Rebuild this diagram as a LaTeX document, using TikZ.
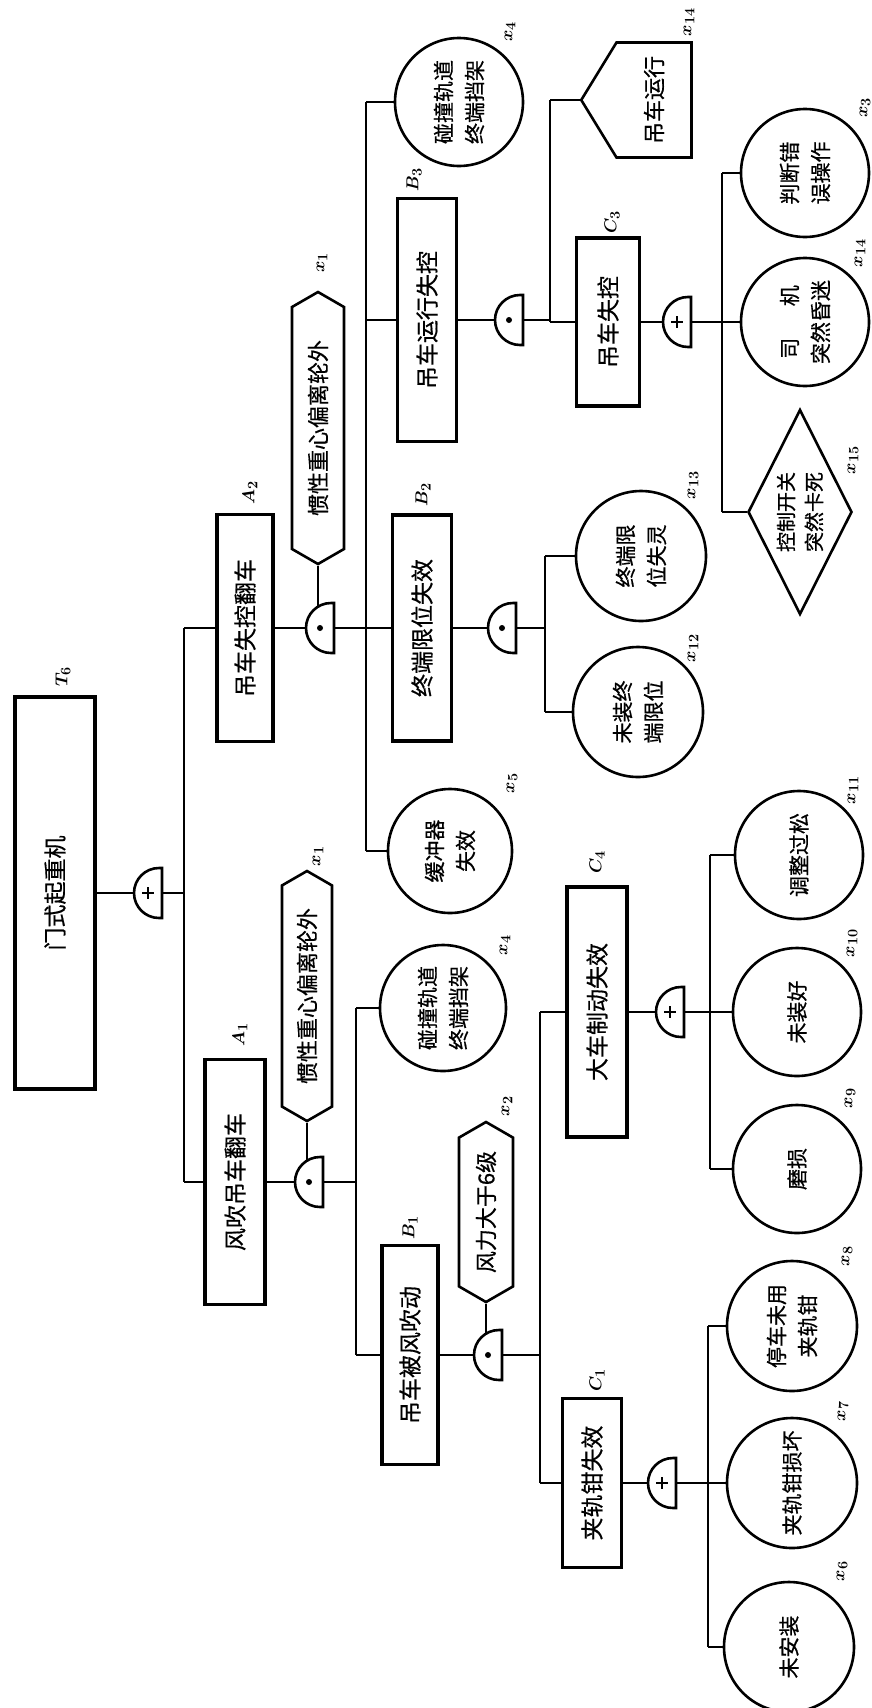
\documentclass[tikz,border=0pt]{standalone}
\usepackage{amsmath}
\usepackage{fontspec}
\newfontfamily\cjk{Noto Sans CJK SC}[FakeBold=0.6]
\usetikzlibrary{shapes.geometric, shapes.symbols, calc}

\begin{document}
\begin{tikzpicture}[x=1pt, y=-1pt,
  box/.style={rectangle, draw, line width=3.5pt, rotate=90, inner sep=0pt, font=\cjk\fontsize{23}{28}\selectfont},
  event/.style={circle, draw, line width=2.6pt, rotate=90, inner sep=0pt, minimum size=128pt, align=center, font=\cjk\fontsize{21}{31}\selectfont},
  cond/.style={signal, signal to=east and west, signal pointer angle=120, draw, line width=2.6pt, rotate=90, inner sep=0pt, minimum height=52pt, font=\cjk\fontsize{22}{26}\selectfont},
  house/.style={signal, signal to=north, signal from=nowhere, signal pointer angle=117, draw, line width=2.6pt, rotate=90, inner sep=0pt, minimum width=115pt, minimum height=102pt, font=\cjk\fontsize{22}{26}\selectfont},
  undev/.style={diamond, aspect=2, draw, line width=2.6pt, rotate=90, inner sep=0pt, minimum width=205pt, minimum height=104pt, align=center, font=\cjk\fontsize{20}{28}\selectfont},
  lbl/.style={rotate=90, inner sep=0pt, font=\fontsize{19}{19}\selectfont\boldmath},
  line/.style={line width=2pt},
  andgate/.pic={
    \draw[line width=2.6pt] (11,-25) arc[start angle=90, end angle=270, radius=25pt] -- (14,25) -- (14,-25) -- cycle;
    \fill (0,0) circle[radius=3pt];
    \coordinate (-in) at (-14,0); \coordinate (-out) at (14,0); \coordinate (-top) at (-2,-21);
  },
  orgate/.pic={
    \draw[line width=2.6pt] (11,-25) arc[start angle=90, end angle=270, radius=25pt] -- (14,25) -- (14,-25) -- cycle;
    \draw[line width=1.6pt] (-6,0) -- (6,0) (0,-6) -- (0,6);
    \coordinate (-in) at (-14,0); \coordinate (-out) at (14,0); \coordinate (-top) at (-2,-21);
  }
]
\path[fill=white, use as bounding box] (0,0) rectangle (872,1708);

\node[box, minimum width=392pt, minimum height=80pt] (t6) at (55,893) {门式起重机};
\node[lbl] (lt6) at (63,677) {$T_6$};
\pic (gT) at (148,893) {orgate};
\coordinate (k0) at (184,0);
\node[box, minimum width=227pt, minimum height=56pt] (a2) at (245,628) {吊车失控翻车};
\node[lbl] (la2) at (250,493) {$A_2$};
\node[box, minimum width=245pt, minimum height=60pt] (a1) at (235,1182) {风吹吊车翻车};
\node[lbl] (la1) at (240,1035) {$A_1$};

\pic (gA2) at (320,628) {andgate};
\node[cond, minimum width=272pt] (x1a) at (318,428) {惯性重心偏离轮外};
\node[lbl] (lx1a) at (322,263) {$x_1$};
\coordinate (k5) at (366,0);
\node[event] (x4a) at (459,102) {碰撞轨道\\终端挡架};
\node[lbl] (lx4a) at (510,32) {$x_4$};
\node[box, minimum width=243pt, minimum height=59pt] (b3) at (427,320) {吊车运行失控};
\node[lbl] (lb3) at (414,180) {$B_3$};
\node[box, minimum width=226pt, minimum height=59pt] (b2) at (422,628) {终端限位失效};
\node[lbl] (lb2) at (423,495) {$B_2$};
\node[event, minimum size=124pt] (x5) at (450,851) {缓冲器\\失效};
\node[lbl] (lx5) at (512,783) {$x_5$};

\pic (gB3) at (509,320) {andgate};
\coordinate (k6) at (550,0);
\node[house] (x14h) at (654,100) {吊车运行};
\node[lbl] (lx14h) at (689,22) {$x_{14}$};
\node[box, minimum width=168pt, minimum height=63pt] (c3) at (608,322) {吊车失控};
\node[lbl] (lc3) at (612,222) {$C_3$};
\pic (gC3) at (677,322) {orgate};
\coordinate (k7) at (722,0);
\node[event] (x3) at (805,173) {判断错\\误操作};
\node[lbl] (lx3) at (865,108) {$x_3$};
\node[event] (x14c) at (805,322) {司\hspace{1.5em}机\\突然昏迷};
\node[lbl] (lx14c) at (860,253) {$x_{14}$};
\node[undev] (x15) at (800,512) {控制开关\\突然卡死};
\node[lbl] (lx15) at (853,460) {$x_{15}$};

\pic (gB2) at (502,628) {andgate};
\coordinate (k8) at (545,0);
\node[event, minimum size=130pt] (x13) at (641,556) {终端限\\位失灵};
\node[lbl] (lx13) at (693,485) {$x_{13}$};
\node[event, minimum size=130pt] (x12) at (638,712) {未装终\\端限位};
\node[lbl] (lx12) at (693,648) {$x_{12}$};

\pic (gA1) at (309,1182) {andgate};
\node[cond, minimum width=250pt, minimum height=50pt] (x1b) at (307,996) {惯性重心偏离轮外};
\node[lbl] (lx1b) at (318,856) {$x_1$};
\coordinate (k1) at (356,0);
\node[event, minimum size=126pt] (x4b) at (443,1008) {碰撞轨道\\终端挡架};
\node[lbl] (lx4b) at (505,945) {$x_4$};
\node[box, minimum width=219pt, minimum height=56pt] (b1) at (410,1355) {吊车被风吹动};
\node[lbl] (lb1) at (410,1228) {$B_1$};

\pic (gB1) at (488,1355) {andgate};
\node[cond, minimum width=180pt, minimum height=54pt] (x2) at (486,1212) {风力大于6级};
\node[lbl] (lx2) at (507,1106) {$x_2$};
\coordinate (k2) at (540,0);
\node[box, minimum width=250pt, minimum height=60pt] (c4) at (597,1012) {大车制动失效};
\node[lbl] (lc4) at (597,862) {$C_4$};
\node[box, minimum width=169pt, minimum height=59pt] (c1) at (592,1483) {夹轨钳失效};
\node[lbl] (lc1) at (597,1380) {$C_1$};

\pic (gC4) at (670,1012) {orgate};
\coordinate (k3) at (710,0);
\node[event] (x11) at (799,855) {调整过松};
\node[lbl] (lx11) at (853,790) {$x_{11}$};
\node[event] (x10) at (797,1012) {未装好};
\node[lbl] (lx10) at (852,943) {$x_{10}$};
\node[event] (x9) at (797,1169) {磨损};
\node[lbl] (lx9) at (850,1098) {$x_9$};

\pic (gC1) at (662,1483) {orgate};
\coordinate (k4) at (708,0);
\node[event, minimum size=130pt] (x8) at (792,1326) {停车未用\\夹轨钳};
\node[lbl] (lx8) at (847,1256) {$x_8$};
\node[event, minimum size=130pt] (x7) at (792,1483) {夹轨钳损坏};
\node[lbl] (lx7) at (843,1411) {$x_7$};
\node[event, minimum size=130pt] (x6) at (789,1647) {未安装};
\node[lbl] (lx6) at (842,1571) {$x_6$};

\draw[line] (t6.south) -- (gT-in);
\draw[line] (gT-out) -- (gT-out -| k0);
\draw[line] (a2.north -| k0) -- (a1.north -| k0);
\draw[line] (a2.north -| k0) -- (a2.north);
\draw[line] (a1.north -| k0) -- (a1.north);

\draw[line] (a2.south) -- (gA2-in);
\draw[line] (x1a.west) -- (gA2-top);
\draw[line] (gA2-out) -- (gA2-out -| k5);
\draw[line] (x4a.north -| k5) -- (x5.north -| k5);
\draw[line] (x4a.north -| k5) -- (x4a.north);
\draw[line] (b3.north -| k5) -- (b3.north);
\draw[line] (b2.north -| k5) -- (b2.north);
\draw[line] (x5.north -| k5) -- (x5.north);

\draw[line] (b3.south) -- (gB3-in);
\draw[line] (gB3-out) -- (gB3-out -| k6);
\draw[line] (x14h.north -| k6) -- (c3.north -| k6);
\draw[line] (x14h.north -| k6) -- (x14h.north);
\draw[line] (c3.north -| k6) -- (c3.north);
\draw[line] (c3.south) -- (gC3-in);
\draw[line] (gC3-out) -- (gC3-out -| k7);
\draw[line] (x3.north -| k7) -- (x15.north -| k7);
\draw[line] (x3.north -| k7) -- (x3.north);
\draw[line] (x14c.north -| k7) -- (x14c.north);
\draw[line] (x15.north -| k7) -- (x15.north);

\draw[line] (b2.south) -- (gB2-in);
\draw[line] (gB2-out) -- (gB2-out -| k8);
\draw[line] (x13.north -| k8) -- (x12.north -| k8);
\draw[line] (x13.north -| k8) -- (x13.north);
\draw[line] (x12.north -| k8) -- (x12.north);

\draw[line] (a1.south) -- (gA1-in);
\draw[line] (x1b.west) -- (gA1-top);
\draw[line] (gA1-out) -- (gA1-out -| k1);
\draw[line] (x4b.north -| k1) -- (b1.north -| k1);
\draw[line] (x4b.north -| k1) -- (x4b.north);
\draw[line] (b1.north -| k1) -- (b1.north);

\draw[line] (b1.south) -- (gB1-in);
\draw[line] (x2.west) -- (gB1-top);
\draw[line] (gB1-out) -- (gB1-out -| k2);
\draw[line] (c4.north -| k2) -- (c1.north -| k2);
\draw[line] (c4.north -| k2) -- (c4.north);
\draw[line] (c1.north -| k2) -- (c1.north);

\draw[line] (c4.south) -- (gC4-in);
\draw[line] (gC4-out) -- (gC4-out -| k3);
\draw[line] (x11.north -| k3) -- (x9.north -| k3);
\draw[line] (x11.north -| k3) -- (x11.north);
\draw[line] (x10.north -| k3) -- (x10.north);
\draw[line] (x9.north -| k3) -- (x9.north);

\draw[line] (c1.south) -- (gC1-in);
\draw[line] (gC1-out) -- (gC1-out -| k4);
\draw[line] (x8.north -| k4) -- (x6.north -| k4);
\draw[line] (x8.north -| k4) -- (x8.north);
\draw[line] (x7.north -| k4) -- (x7.north);
\draw[line] (x6.north -| k4) -- (x6.north);
\end{tikzpicture}
\end{document}
